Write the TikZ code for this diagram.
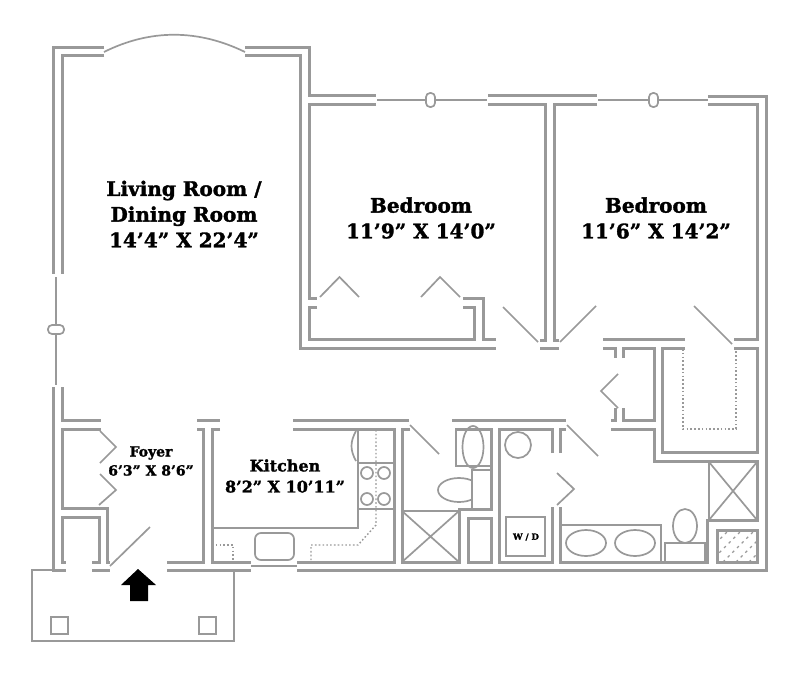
\documentclass[tikz,border=0pt]{standalone}
\usepackage{fontspec}
\setmainfont[BoldFeatures={FakeBold=1.6}]{DejaVu Serif}
\definecolor{wallgray}{HTML}{999999}
\tikzset{
    wall/.style={draw=wallgray,line width=3pt},
    fixture/.style={draw=wallgray,line width=1.7pt},
    swing/.style={draw=wallgray,line width=1.7pt},
    guide/.style={draw=wallgray,line width=1.4pt,dash pattern=on 1.6pt off 2.2pt},
    room/.style={align=center,text=black,inner sep=0pt,font=\fontsize{20}{25.7}\selectfont\bfseries},
    smallroom/.style={room,font=\fontsize{14}{19}\selectfont\bfseries}
}
\begin{document}
\begin{tikzpicture}[x=1pt,y=-1pt]
\useasboundingbox (0,0) rectangle (800,675);
% Labels
\node[room] (living) at (184,214){Living Room /\\Dining Room\\14’4” X 22’4”};
\node[room] (bedleft) at (421,218){Bedroom\\11’9” X 14’0”};
\node[room] (bedright) at (656,218){Bedroom\\11’6” X 14’2”};
\node[smallroom] (foyer) at (151,461){Foyer\\6’3” X 8’6”};
\node[smallroom,font=\fontsize{16}{21}\selectfont\bfseries] (kitchen) at (285,476){Kitchen\\8’2” X 10’11”};
\node[inner sep=0pt,font=\fontsize{8.5}{10}\selectfont\bfseries] (wd) at (526,537){W / D};
% Living room walls
\draw[wall] (104,47) -- (53,47) -- (53,274);
\draw[wall] (104,55) -- (62,55) -- (62,274);
\draw[wall] (245,47) -- (309,47) -- (309,95) -- (376,95);
\draw[wall] (245,55) -- (300,55) -- (300,348) -- (496,348);
\draw[wall] (376,104) -- (309,104) -- (309,298) -- (317,298);
\draw[wall] (53,387) -- (53,570) -- (66,570);
\draw[wall] (62,387) -- (62,420) -- (101,420);
\draw[fixture] (104,52) .. controls (150,29) and (198,29) .. (245,52);
\draw[fixture] (56,277) -- (56,324) (56,334) -- (56,385);
\draw[fixture,rounded corners=4pt] (48,325) rectangle (64,334);
% Bedroom closet
\draw[wall] (317,307) -- (309,307) -- (309,339) -- (474,339) -- (474,307) -- (463,307);
\draw[wall] (463,298) -- (483,298) -- (483,339) -- (496,339);
\draw[swing] (320,297) -- (339.5,277) -- (359,297);
\draw[swing] (421,297) -- (440,277) -- (460,297);
% Bedroom walls and windows
\draw[wall] (488,95) -- (597,95);
\draw[wall] (488,104) -- (545,104) -- (545,340) -- (540,340);
\draw[wall] (597,104) -- (554,104) -- (554,340) -- (559,340);
\draw[wall] (540,348) -- (559,348);
\draw[wall] (708,96) -- (766,96) -- (766,570) -- (297,570);
\draw[wall] (708,104) -- (757,104) -- (757,339) -- (734,339);
\draw[fixture] (377,100) -- (426,100) (435,100) -- (487,100);
\draw[fixture,rounded corners=4pt] (426,93) rectangle (435,107);
\draw[fixture] (598,100) -- (649,100) (658,100) -- (708,100);
\draw[fixture,rounded corners=4pt] (649,93) rectangle (658,107);
\draw[swing] (503,307) -- (538,342);
\draw[swing] (596,306) -- (560,342);
\draw[swing] (694,306) -- (732,344);
% Hall closet and walk-in
\draw[wall] (603,339) -- (685,339);
\draw[wall] (603,348) -- (615,348) -- (615,358);
\draw[wall] (623,358) -- (623,348) -- (654,348) -- (654,420) -- (623,420) -- (623,408);
\draw[wall] (611,420) -- (615,420) -- (615,408);
\draw[wall] (611,429) -- (654,429) -- (654,461) -- (757,461) -- (757,520) -- (707,520) -- (707,562) -- (560,562) -- (560,507);
\draw[wall] (685,348) -- (662,348) -- (662,452) -- (757,452) -- (757,348) -- (734,348);
\draw[swing] (618,374) -- (601,391) -- (618,408);
\draw[guide] (683,349) -- (683,429) -- (736,429) -- (736,349);
% Foyer
\draw[wall] (101,429) -- (62,429) -- (62,508) -- (107,508) -- (107,562) -- (110,562);
\draw[wall] (92,562) -- (99,562) -- (99,517) -- (62,517) -- (62,562) -- (66,562);
\draw[wall] (92,570) -- (110,570);
\draw[wall] (197,420) -- (220,420);
\draw[wall] (220,429) -- (212,429) -- (212,562) -- (251,562);
\draw[wall] (197,429) -- (203,429) -- (203,562) -- (167,562);
\draw[wall] (167,570) -- (251,570);
\draw[swing] (100,431) -- (116,447) -- (100,463);
\draw[swing] (100,474) -- (116,490) -- (99,505);
\draw[swing] (110,566) -- (150,527);
% Porch and arrow
\draw[fixture] (52,570) -- (32,570) -- (32,641) -- (234,641) -- (234,571);
\draw[fixture] (51,617) rectangle (68,634);
\draw[fixture] (199,617) rectangle (216,634);
\fill[black] (138,569) -- (156,585) -- (148,585) -- (148,601) -- (130,601) -- (130,585) -- (121,585) -- cycle;
% Kitchen
\draw[wall] (293,420) -- (409,420);
\draw[wall] (293,429) -- (394,429) -- (394,562) -- (297,562);
\draw[fixture] (212,528) -- (358,528) -- (358,430);
\draw[fixture] (358,463) -- (394,463) (358,509) -- (394,509);
\draw[fixture] (356,431) .. controls (350,442) and (350,450) .. (356,461);
\foreach \px/\py in {367/473,384/473,367/499,384/499}
    \draw[fixture] (\px,\py) circle (6);
\draw[fixture,rounded corners=6pt] (255,533) rectangle (294,560);
\draw[fixture] (251,566) -- (297,566);
\draw[guide] (376,430) -- (376,525) -- (358,545) -- (311,545) -- (311,562);
\draw[guide] (212,545) -- (233,545) -- (233,562);
% Bath with shower
\draw[wall] (452,420) -- (566,420);
\draw[wall] (410,429) -- (402,429) -- (402,562) -- (459,562) -- (459,509) -- (491,509) -- (491,429) -- (455,429);
\draw[fixture] (456,429) -- (456,466) -- (491,466);
\draw[fixture] (473,447) ellipse (10.5 and 21);
\draw[fixture] (459,490) ellipse (21 and 12);
\draw[fixture,fill=white] (472,470) rectangle (491,509);
\draw[fixture] (402,511) -- (459,511) (402,511) -- (459,562) (459,511) -- (402,562);
\draw[wall] (468,518) rectangle (491,562);
\draw[swing] (410,425) -- (439,454);
% Laundry
\draw[wall] (552,453) -- (552,429) -- (499,429) -- (499,562) -- (552,562) -- (552,507);
\draw[fixture] (518,445) circle (13);
\draw[fixture] (506,517) rectangle (545,556);
% Master bath
\draw[wall] (560,453) -- (560,429) -- (566,429);
\draw[swing] (567,425) -- (598,456);
\draw[swing] (557,473) -- (574,489) -- (557,505);
\draw[fixture] (560,525) -- (661,525) -- (661,562);
\draw[fixture] (586,543) ellipse (20 and 13);
\draw[fixture] (635,543) ellipse (20 and 13);
\draw[fixture] (685,526) ellipse (12 and 17);
\draw[fixture,fill=white] (665,543) rectangle (705,562);
\draw[fixture] (709,462) -- (709,520);
\draw[fixture] (709,462) -- (757,520) (757,462) -- (709,520);
% Hatched cupboard
\begin{scope}
\clip (716,529) rectangle (757,562);
\foreach \hx in {684,697,...,749}
    \draw[guide,line width=1.2pt,dash pattern=on 2.6pt off 4pt] (\hx,562) -- ++(33,-33);
\end{scope}
\draw[wall] (717,530) rectangle (757,562);
\end{tikzpicture}
\end{document}
